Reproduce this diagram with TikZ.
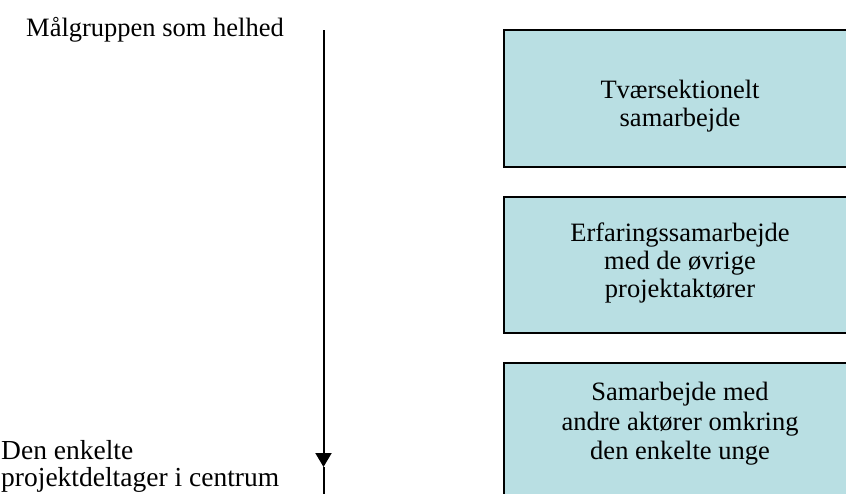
\documentclass[tikz,border=0pt]{standalone}
\usepackage{fontspec}
\setmainfont{Liberation Serif}
\usetikzlibrary{arrows.meta}
\definecolor{boxfill}{RGB}{185,223,227}
\begin{document}
\begin{tikzpicture}[x=1pt,y=-1pt,
  panel/.style={draw=black, line width=1.4pt, fill=boxfill, minimum width=352pt,
    minimum height=137pt, anchor=north west, inner sep=0pt, outer sep=0pt},
  txt/.style={font=\fontsize{26.5}{28}\selectfont, align=center, inner sep=0pt, anchor=north},
  sidetxt/.style={font=\fontsize{26.5}{27.5}\selectfont, inner sep=0pt},
  axisline/.style={line width=2pt}]
\useasboundingbox (0,0) rectangle (846,493);
\clip (0,0) rectangle (846,493);
% boxes
\node[panel] (b1) at (504,30) {};
\node[panel, minimum height=136pt] (b2) at (504,197) {};
\node[panel, minimum height=140pt] (b3) at (504,363) {};
\node[txt] (t1) at (680,80) {Tværsektionelt\\samarbejde};
\node[txt] (t2) at (680,222.6) {Erfaringssamarbejde\\med de øvrige\\projektaktører};
\node[txt, font=\fontsize{26.5}{29.5}\selectfont] (t3) at (680,382) {Samarbejde med\\andre aktører omkring\\den enkelte unge};
% axis
\coordinate (top) at (323.5,30);
\coordinate (tip) at (323.5,467);
\coordinate (bot) at (323.5,500);
\draw[axisline,-{Triangle[length=14pt,width=16pt]}] (top) -- (tip);
\draw[axisline] (tip) -- (bot);
% side labels
\node[sidetxt, anchor=north] (l1) at (155,17) {Målgruppen som helhed};
\node[sidetxt, font=\fontsize{27.5}{27.5}\selectfont, anchor=north west, align=left] (l2) at (1,440) {Den enkelte\\projektdeltager i centrum};
\end{tikzpicture}
\end{document}
